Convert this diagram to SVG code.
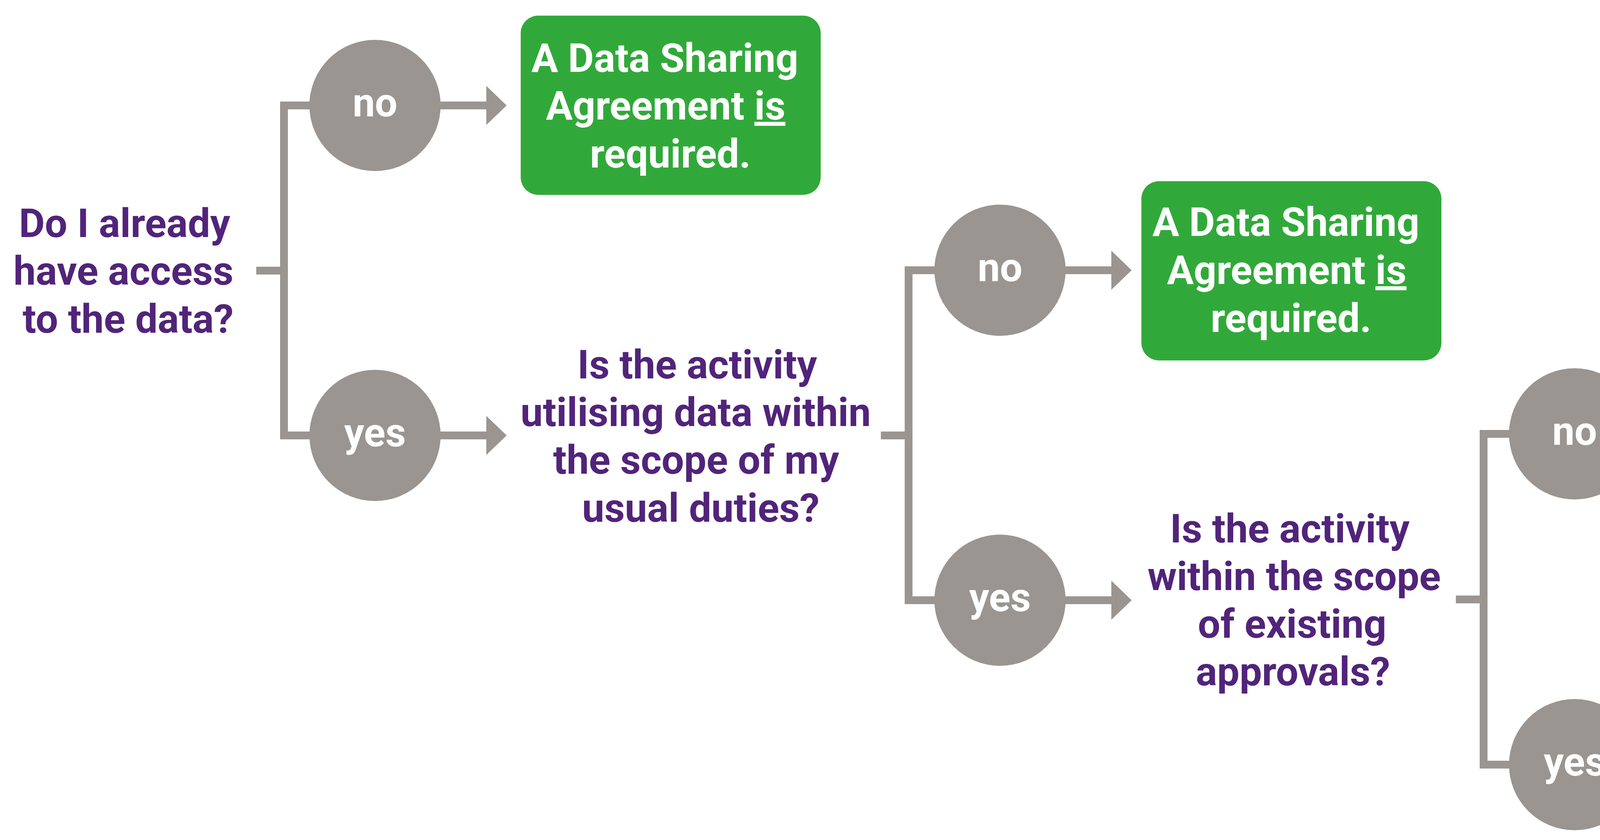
<svg xmlns="http://www.w3.org/2000/svg" width="5165" height="2151" viewBox="0 0 5165 2151">
<style>
.ln{fill:none;stroke:#9A9590;stroke-width:20;stroke-linejoin:miter;stroke-linecap:butt}
.circ{fill:#9A9590}
.lbl{font-family:Roboto,"Liberation Sans",sans-serif;font-weight:bold;font-size:102px;fill:#FFFFFF;text-anchor:middle}
.q{font-family:Roboto,"Liberation Sans",sans-serif;font-weight:bold;font-size:102px;fill:#51247A;text-anchor:middle}
.green{fill:#31A93A}
.purple{fill:#522479}
.u{text-decoration:underline}
</style>
<defs>
<marker id="ah" markerUnits="userSpaceOnUse" markerWidth="52" markerHeight="100" viewBox="0 0 52 100" refX="0" refY="50" orient="auto">
<path d="M0,0 L52,50 L0,100 Z" fill="#9A9590"/>
</marker>
</defs>
<g id="connectors">
<path class="ln" d="M656,693 H727 M960,270 H727 V1115 H960"/>
<path class="ln" d="M960,270 H1245" marker-end="url(#ah)"/>
<path class="ln" d="M960,1115 H1245" marker-end="url(#ah)"/>
<path class="ln" d="M2255,1115 H2326 M2560,692 H2326 V1537 H2560"/>
<path class="ln" d="M2560,692 H2845" marker-end="url(#ah)"/>
<path class="ln" d="M2560,1537 H2845" marker-end="url(#ah)"/>
<path class="ln" d="M3727,1535 H3798 M4031,1111 H3798 V1958 H4031"/>
<path class="ln" d="M4031,1111 H4321" marker-end="url(#ah)"/>
<path class="ln" d="M4031,1958 H4321" marker-end="url(#ah)"/>
</g>
<g id="q1">
<text class="q" x="319" y="607">Do I already</text>
<text class="q" x="316" y="729">have access</text>
<text class="q" x="328" y="852">to the data?</text>
</g>
<g id="c1-no"><circle class="circ" cx="960" cy="270" r="168"/><text class="lbl" x="960" y="298">no</text></g>
<g id="c1-yes"><circle class="circ" cx="960" cy="1115" r="168"/><text class="lbl" x="960" y="1143">yes</text></g>
<g id="box1">
<rect class="green" x="1333" y="40" width="768" height="459" rx="45"/>
<text class="lbl" x="1702" y="184">A Data Sharing</text>
<text class="lbl" x="1704" y="306">Agreement <tspan class="u">is</tspan></text>
<text class="lbl" x="1716" y="429">required.</text>
</g>
<g id="q2">
<text class="q" x="1785" y="969">Is the activity</text>
<text class="q" x="1781" y="1091">utilising data within</text>
<text class="q" x="1782" y="1213">the scope of my</text>
<text class="q" x="1794" y="1336">usual duties?</text>
</g>
<g id="c2-no"><circle class="circ" cx="2560" cy="692" r="168"/><text class="lbl" x="2560" y="720">no</text></g>
<g id="c2-yes"><circle class="circ" cx="2560" cy="1537" r="168"/><text class="lbl" x="2560" y="1565">yes</text></g>
<g id="box2">
<rect class="green" x="2922" y="464" width="768" height="459" rx="45"/>
<text class="lbl" x="3292" y="604">A Data Sharing</text>
<text class="lbl" x="3294" y="727">Agreement <tspan class="u">is</tspan></text>
<text class="lbl" x="3305" y="850">required.</text>
</g>
<g id="q3">
<text class="q" x="3302" y="1389">Is the activity</text>
<text class="q" x="3313" y="1511">within the scope</text>
<text class="q" x="3308" y="1633">of existing</text>
<text class="q" x="3310" y="1755">approvals?</text>
</g>
<g id="c3-no"><circle class="circ" cx="4031" cy="1111" r="168"/><text class="lbl" x="4031" y="1139">no</text></g>
<g id="c3-yes"><circle class="circ" cx="4031" cy="1958" r="168"/><text class="lbl" x="4031" y="1986">yes</text></g>
<g id="box3">
<rect class="green" x="4394" y="881" width="768" height="459" rx="45"/>
<text class="lbl" x="4764" y="1024">A Data Sharing</text>
<text class="lbl" x="4766" y="1146">Agreement <tspan class="u">is</tspan></text>
<text class="lbl" x="4777" y="1269">required.</text>
</g>
<g id="box4">
<rect class="purple" x="4394" y="1724" width="768" height="459" rx="45"/>
<text class="lbl" x="4764" y="1866">A Data Sharing</text>
<text class="lbl" x="4765" y="1986">Agreement is</text>
<text class="lbl" x="4776" y="2105"><tspan class="u">not</tspan> required.</text>
</g>
</svg>
